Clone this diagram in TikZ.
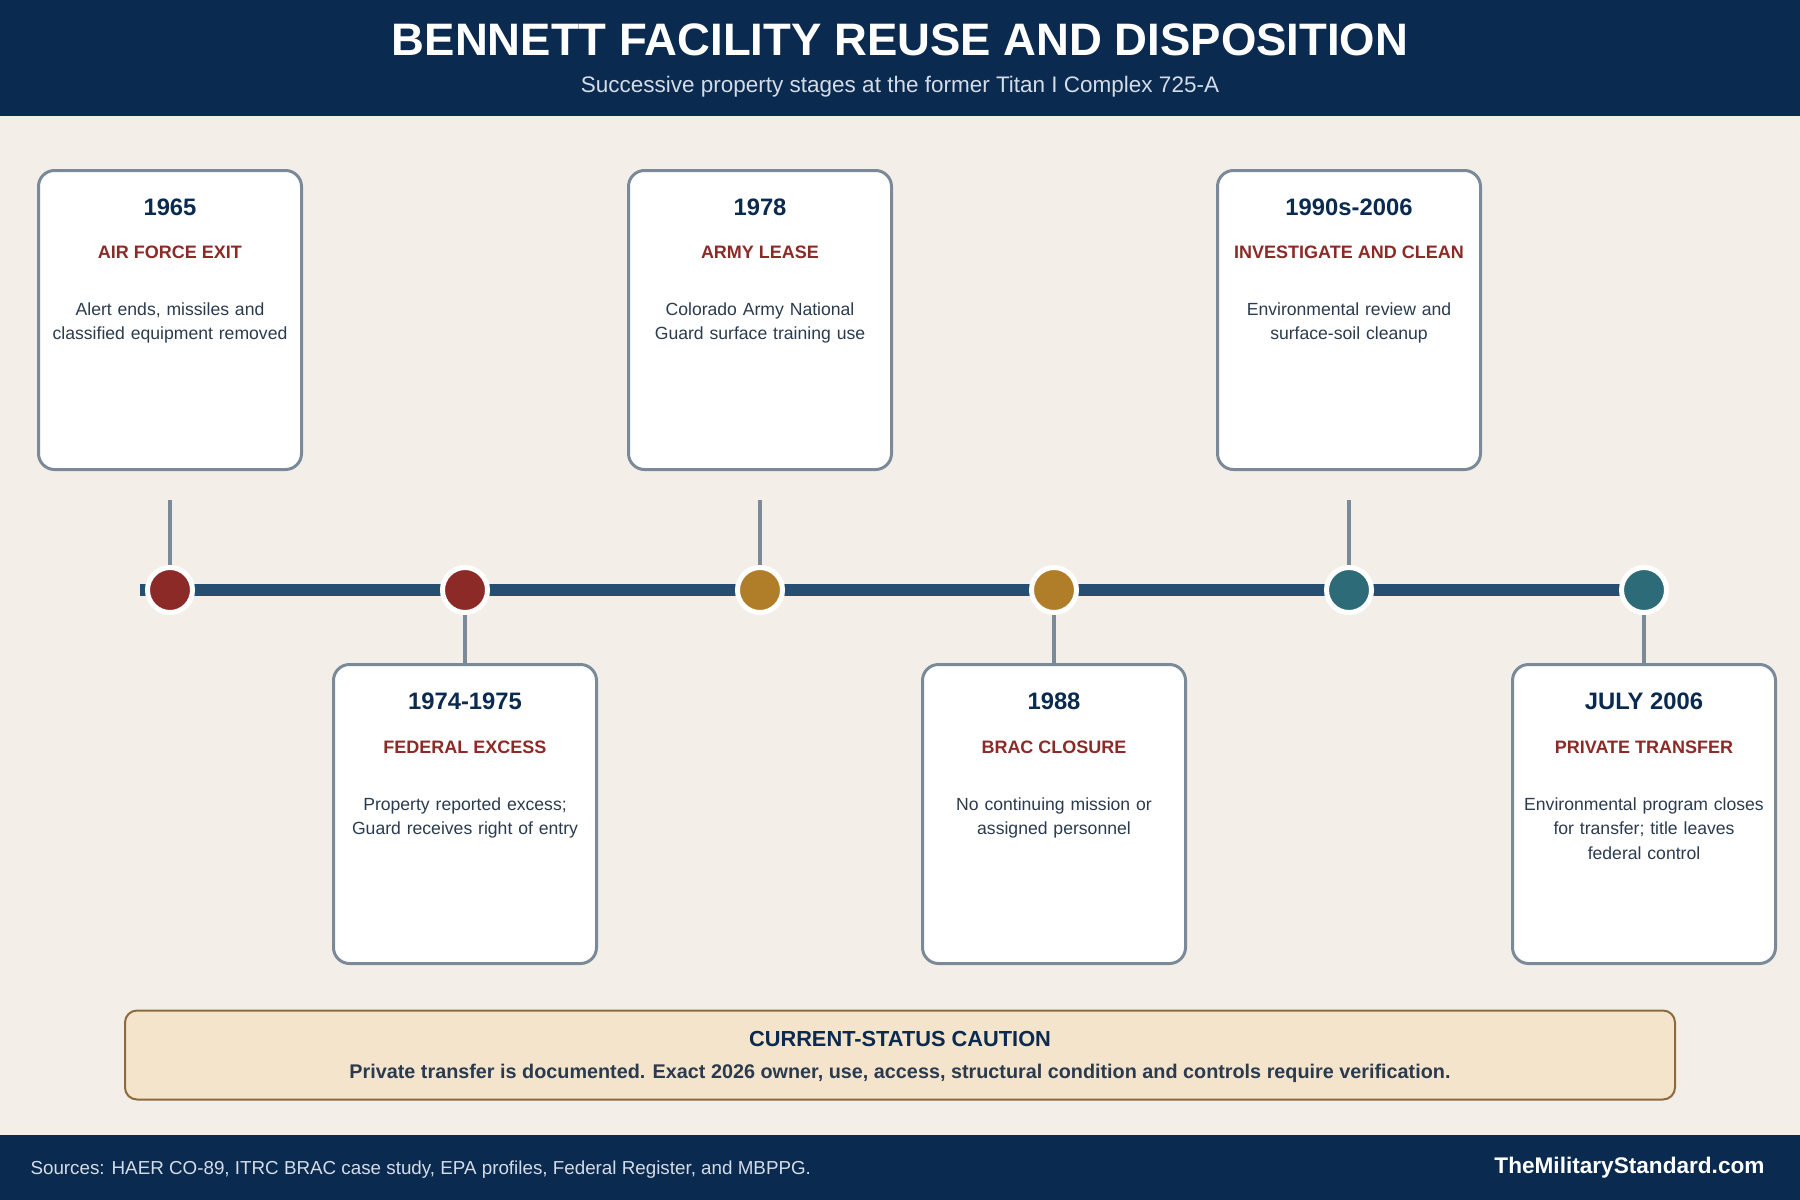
\documentclass[tikz,border=0pt]{standalone}
\usepackage{fontspec}
\setmainfont{Liberation Sans}
\begin{document}
\begin{tikzpicture}[x=1pt,y=-1pt]
\definecolor{navy}{HTML}{0B2A4F}
\definecolor{bg}{HTML}{F3EFE8}
\definecolor{tline}{HTML}{264E70}
\definecolor{cred}{HTML}{8B2A26}
\definecolor{cgold}{HTML}{B07D28}
\definecolor{cteal}{HTML}{2E6B78}
\definecolor{cbord}{HTML}{7A8A99}
\definecolor{bodytxt}{HTML}{2B3B4F}
\definecolor{cautfill}{HTML}{F4E4CC}
\definecolor{cautbord}{HTML}{8C6A3D}
\definecolor{subtxt}{HTML}{D3DCE7}
\tikzset{
  card/.style={draw=cbord, line width=3pt, fill=white, rounded corners=16pt, minimum width=263pt, minimum height=299pt, inner sep=0pt},
  yeartxt/.style={font=\fontsize{23.8}{28}\selectfont\bfseries, text=navy},
  cattxt/.style={font=\fontsize{18}{21}\selectfont\bfseries, text=cred},
  bodyt/.style={font=\fontsize{17.6}{24.5}\selectfont, text=bodytxt, align=center, text width=255pt},
  stem/.style={draw=cbord, line width=3.5pt},
  dot/.style={circle, draw=white, line width=5pt, minimum size=45pt, inner sep=0pt}
}
\useasboundingbox (0,0) rectangle (1800,1200);
\fill[bg] (0,0) rectangle (1800,1200);
% header
\fill[navy] (0,0) rectangle (1800,116);
\node[font=\fontsize{45.5}{52}\selectfont\bfseries, text=white] (title) at (900,40) {BENNETT FACILITY REUSE AND DISPOSITION};
\node[font=\fontsize{22.5}{26}\selectfont, text=subtxt] (subtitle) at (900,86.5) {Successive property stages at the former Titan I Complex 725-A};
% footer
\fill[navy] (0,1135) rectangle (1800,1200);
\node[font=\fontsize{18.8}{22}\selectfont, text=subtxt, anchor=west] (src) at (27,1170) {Sources: HAER CO-89, ITRC BRAC case study, EPA profiles, Federal Register, and MBPPG.};
\node[font=\fontsize{22.6}{26}\selectfont\bfseries, text=white, anchor=east] (brand) at (1768,1168) {TheMilitaryStandard.com};
% timeline
\coordinate (tl) at (140,590);
\coordinate (tr) at (1644,590);
\draw[tline, line width=12pt] (tl) -- (tr);
% cards
\node[card] (c1) at (170,320) {};
\node[card] (c2) at (465,814) {};
\node[card] (c3) at (760,320) {};
\node[card] (c4) at (1054,814) {};
\node[card] (c5) at (1349,320) {};
\node[card] (c6) at (1644,814) {};
% dots
\node[dot, fill=cred] (d1) at (170,590) {};
\node[dot, fill=cred] (d2) at (465,590) {};
\node[dot, fill=cgold] (d3) at (760,590) {};
\node[dot, fill=cgold] (d4) at (1054,590) {};
\node[dot, fill=cteal] (d5) at (1349,590) {};
\node[dot, fill=cteal] (d6) at (1644,590) {};
% stems
\draw[stem] ([yshift=-29pt]c1.south) -- (d1.north);
\draw[stem] ([yshift=-29pt]c3.south) -- (d3.north);
\draw[stem] ([yshift=-29pt]c5.south) -- (d5.north);
\draw[stem] (d2.south) -- (c2.north);
\draw[stem] (d4.south) -- (c4.north);
\draw[stem] (d6.south) -- (c6.north);
% card texts upper
\node[yeartxt] (y1) at (170,207) {1965};
\node[cattxt] (k1) at (170,252) {AIR FORCE EXIT};
\node[bodyt, anchor=north] (b1) at (170,299) {Alert ends, missiles and\\classified equipment removed};
\node[yeartxt] (y3) at (760,207) {1978};
\node[cattxt] (k3) at (760,252) {ARMY LEASE};
\node[bodyt, anchor=north] (b3) at (760,299) {Colorado Army National\\Guard surface training use};
\node[yeartxt] (y5) at (1349,207) {1990s-2006};
\node[cattxt] (k5) at (1349,252) {INVESTIGATE AND CLEAN};
\node[bodyt, anchor=north] (b5) at (1349,299) {Environmental review and\\surface-soil cleanup};
% card texts lower
\node[yeartxt] (y2) at (465,701) {1974-1975};
\node[cattxt] (k2) at (465,747) {FEDERAL EXCESS};
\node[bodyt, anchor=north] (b2) at (465,794) {Property reported excess;\\Guard receives right of entry};
\node[yeartxt] (y4) at (1054,701) {1988};
\node[cattxt] (k4) at (1054,747) {BRAC CLOSURE};
\node[bodyt, anchor=north] (b4) at (1054,794) {No continuing mission or\\assigned personnel};
\node[yeartxt] (y6) at (1644,701) {JULY 2006};
\node[cattxt] (k6) at (1644,747) {PRIVATE TRANSFER};
\node[bodyt, anchor=north] (b6) at (1644,794) {Environmental program closes\\for transfer; title leaves\\federal control};
% caution
\node[draw=cautbord, fill=cautfill, line width=2pt, rounded corners=12pt, minimum width=1550pt, minimum height=89pt] (caut) at (900,1055) {};
\node[font=\fontsize{21.8}{25}\selectfont\bfseries, text=navy] (cautt) at (900,1039) {CURRENT-STATUS CAUTION};
\node[font=\fontsize{19.8}{23}\selectfont\bfseries, text=bodytxt] (cautb) at (900,1073) {Private transfer is documented. Exact 2026 owner, use, access, structural condition and controls require verification.};
\end{tikzpicture}
\end{document}
